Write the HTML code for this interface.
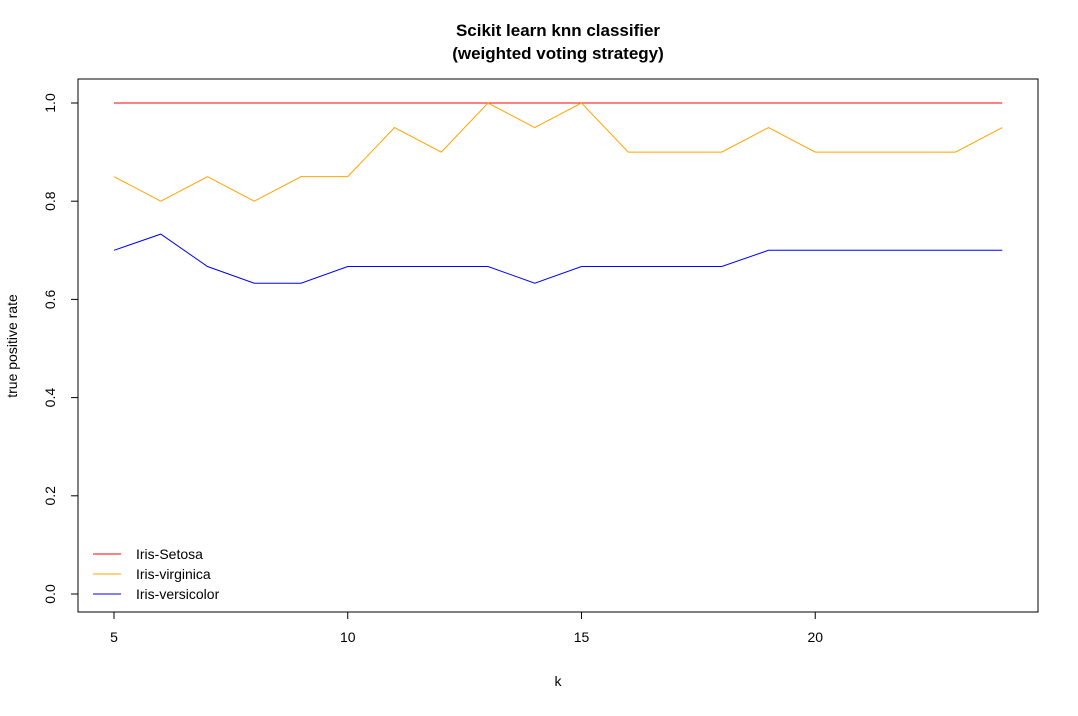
<!DOCTYPE html>
<html><head><meta charset="utf-8"><style>
body{margin:0;background:#fff;}
svg text{font-family:"Liberation Sans",sans-serif;}
</style></head><body>
<svg id="chart" width="1078" height="711">
<text x="558" y="36" text-anchor="middle" font-size="17" font-weight="bold">Scikit learn knn classifier</text>
<text x="558" y="59" text-anchor="middle" font-size="17" font-weight="bold">(weighted voting strategy)</text>
<rect x="78" y="79" width="960" height="533" fill="none" stroke="#000"/>
<g id="axes"></g>
<g id="series"></g>
<text x="558" y="686" text-anchor="middle" font-size="14">k</text>
<text transform="translate(17,346) rotate(-90)" text-anchor="middle" font-size="14">true positive rate</text>
<g id="legend"></g>
</svg>
<script>
const ks=[5,6,7,8,9,10,11,12,13,14,15,16,17,18,19,20,21,22,23,24];
const setosa=[1,1,1,1,1,1,1,1,1,1,1,1,1,1,1,1,1,1,1,1];
const virginica=[0.85,0.80,0.85,0.80,0.85,0.85,0.95,0.90,1.0,0.95,1.0,0.90,0.90,0.90,0.95,0.90,0.90,0.90,0.90,0.95];
const versicolor=[0.70,0.733,0.667,0.633,0.633,0.667,0.667,0.667,0.667,0.633,0.667,0.667,0.667,0.667,0.70,0.70,0.70,0.70,0.70,0.70];
const xTicks=[5,10,15,20];
const yTicks=[0,0.2,0.4,0.6,0.8,1.0];
const seriesNames=["Iris-Setosa","Iris-virginica","Iris-versicolor"];
const seriesColors=["red","orange","blue"];
const NS="http://www.w3.org/2000/svg";
const xs=k=>114+(k-5)*46.75;
const ys=v=>594-v*491;
function mk(tag,attrs,parent){const e=document.createElementNS(NS,tag);for(const a in attrs)e.setAttribute(a,attrs[a]);parent.appendChild(e);return e;}
const ax=document.getElementById('axes');
mk('line',{x1:xs(5),x2:xs(20),y1:612,y2:612,stroke:'#000'},ax);
xTicks.forEach(t=>{mk('line',{x1:xs(t),x2:xs(t),y1:612,y2:619,stroke:'#000'},ax);
const tx=mk('text',{x:xs(t),y:642,'text-anchor':'middle','font-size':14},ax);tx.textContent=t;

});
mk('line',{x1:78,x2:78,y1:ys(0),y2:ys(1),stroke:'#000'},ax);
yTicks.forEach(t=>{mk('line',{x1:71,x2:78,y1:ys(t),y2:ys(t),stroke:'#000'},ax);
const tx=mk('text',{transform:`translate(55,${ys(t)}) rotate(-90)`,'text-anchor':'middle','font-size':14},ax);tx.textContent=t.toFixed(1);

});
const sg=document.getElementById('series');
[setosa,virginica,versicolor].forEach((d,i)=>{
const p=mk('polyline',{points:ks.map((k,j)=>xs(k)+','+ys(d[j])).join(' '),fill:'none',stroke:seriesColors[i],'stroke-width':1},sg);

});
const lg=document.getElementById('legend');
seriesNames.forEach((n,i)=>{const y=554+i*20;
mk('line',{x1:93,x2:121,y1:y,y2:y,stroke:seriesColors[i]},lg);
const tx=mk('text',{x:136,y:y+5,'font-size':14},lg);tx.textContent=n;

});
</script>
</body></html>
